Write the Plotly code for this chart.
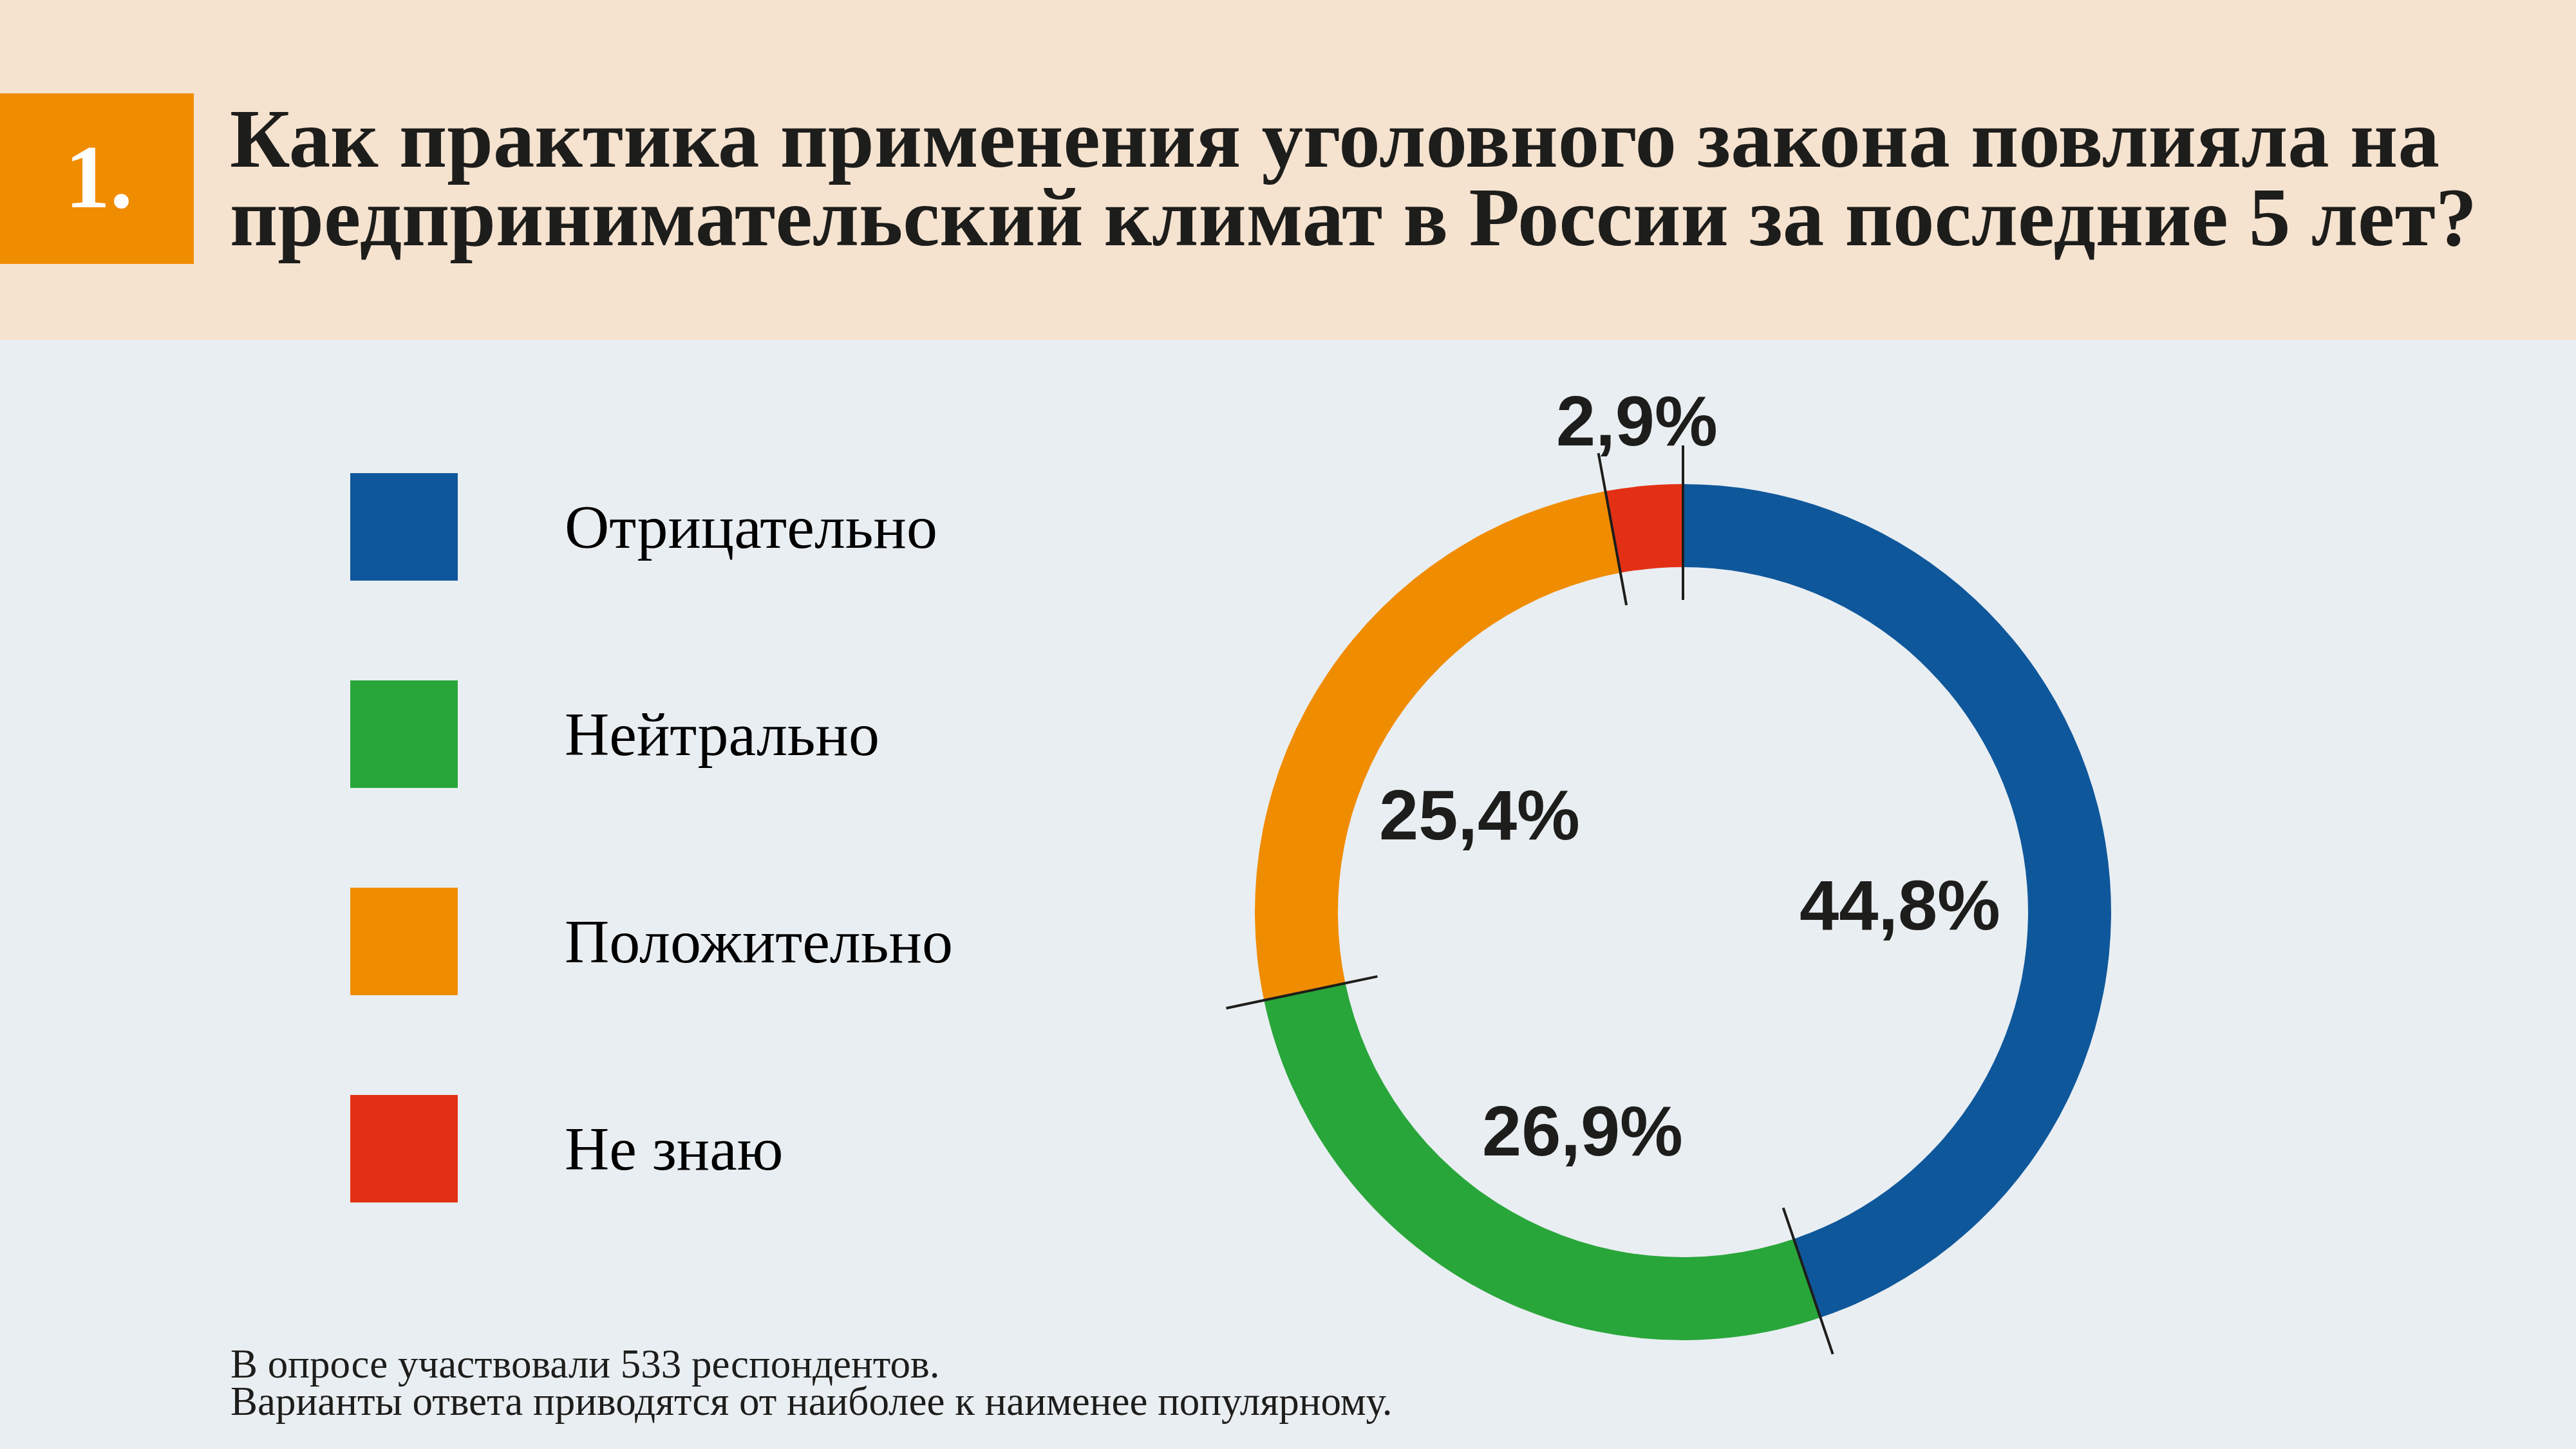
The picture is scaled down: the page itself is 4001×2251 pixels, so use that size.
import math
import plotly.graph_objects as go

W, H = 4001, 2251

# ---------------- data ----------------
categories = ["Отрицательно", "Нейтрально", "Положительно", "Не знаю"]
values = [44.8, 26.9, 25.4, 2.9]
value_labels = ["44,8%", "26,9%", "25,4%", "2,9%"]
colors = ["#0F579B", "#29A63A", "#F08C00", "#E33015"]

question_number = "1."
title_lines = [
    "Как практика применения уголовного закона повлияла на",
    "предпринимательский климат в России за последние 5 лет?",
]
footnote_lines = [
    "В опросе участвовали 533 респондентов.",
    "Варианты ответа приводятся от наиболее к наименее популярному.",
]

# ---------------- layout constants (pixels) ----------------
BG = "#E9EEF2"
HEADER_BG = "#F5E2CF"
ACCENT = "#F08C00"
DARK = "#1D1D1B"
CX, CY, R_OUT, R_IN = 2614, 1417, 665, 536
LINE_IN, LINE_OUT = 485, 725
label_pos = [(2951, 1405), (2458, 1757), (2298, 1265), (2542, 653)]
LEG_X0, LEG_SIZE, LEG_Y0, LEG_STEP, LEG_TEXT_X = 544, 167, 735, 322, 875


def px(x):
    return x / W


def py(y):
    return 1 - y / H


fig = go.Figure()

fig.add_trace(go.Pie(
    labels=categories,
    values=values,
    marker=dict(colors=colors, line=dict(width=0)),
    hole=R_IN / R_OUT,
    sort=False,
    direction="clockwise",
    rotation=0,
    textinfo="none",
    hoverinfo="label+percent",
    showlegend=False,
    domain=dict(x=[px(CX - R_OUT), px(CX + R_OUT)],
                y=[py(CY + R_OUT), py(CY - R_OUT)]),
))

shapes = []
# header band
shapes.append(dict(type="rect", xref="paper", yref="paper",
                   x0=0, x1=1, y0=py(528), y1=1,
                   fillcolor=HEADER_BG, line=dict(width=0), layer="below"))
# number box
shapes.append(dict(type="rect", xref="paper", yref="paper",
                   x0=0, x1=px(301), y0=py(410), y1=py(145),
                   fillcolor=ACCENT, line=dict(width=0)))

annotations = []
annotations.append(dict(text=question_number, x=px(153), y=py(274),
                        xref="paper", yref="paper", xanchor="center", yanchor="middle",
                        showarrow=False,
                        font=dict(family="Liberation Serif", size=140, color="white", weight="bold")))
title_y = [215, 338]
for t, yy in zip(title_lines, title_y):
    annotations.append(dict(text=t, x=px(355), y=py(yy), xref="paper", yref="paper",
                            xanchor="left", yanchor="middle", showarrow=False,
                            font=dict(family="Liberation Serif", size=129, color=DARK, weight="bold")))

# legend
for i, (cat, col) in enumerate(zip(categories, colors)):
    y0 = LEG_Y0 + i * LEG_STEP
    shapes.append(dict(type="rect", xref="paper", yref="paper",
                       x0=px(LEG_X0), x1=px(LEG_X0 + LEG_SIZE),
                       y0=py(y0 + LEG_SIZE), y1=py(y0),
                       fillcolor=col, line=dict(width=0)))
    annotations.append(dict(text=cat, x=px(LEG_TEXT_X), y=py(y0 + LEG_SIZE / 2),
                            xref="paper", yref="paper", xanchor="left", yanchor="middle",
                            showarrow=False,
                            font=dict(family="Liberation Serif", size=96, color="black")))

# separator lines at slice boundaries
total = sum(values)
cum = 0.0
for v in values:
    ang = 2 * math.pi * cum / total
    s, c = math.sin(ang), math.cos(ang)
    shapes.append(dict(type="line", xref="paper", yref="paper",
                       x0=px(CX + LINE_IN * s), y0=py(CY - LINE_IN * c),
                       x1=px(CX + LINE_OUT * s), y1=py(CY - LINE_OUT * c),
                       line=dict(color=DARK, width=4)))
    cum += v

# value labels
for lab, (lx, ly) in zip(value_labels, label_pos):
    annotations.append(dict(text=lab, x=px(lx), y=py(ly), xref="paper", yref="paper",
                            xanchor="center", yanchor="middle", showarrow=False,
                            font=dict(family="Liberation Sans", size=110, color=DARK, weight="bold")))

# footnote
foot_y = [2119, 2177]
for t, yy in zip(footnote_lines, foot_y):
    annotations.append(dict(text=t, x=px(356), y=py(yy), xref="paper", yref="paper",
                            xanchor="left", yanchor="middle", showarrow=False,
                            font=dict(family="Liberation Serif", size=63, color=DARK)))

fig.update_layout(
    width=W, height=H,
    margin=dict(l=0, r=0, t=0, b=0),
    paper_bgcolor=BG, plot_bgcolor=BG,
    shapes=shapes, annotations=annotations,
    showlegend=False,
)

fig.write_html("out.html", config={"displayModeBar": False},
               post_script="document.body.style.margin='0px';document.body.style.padding='0px';")
